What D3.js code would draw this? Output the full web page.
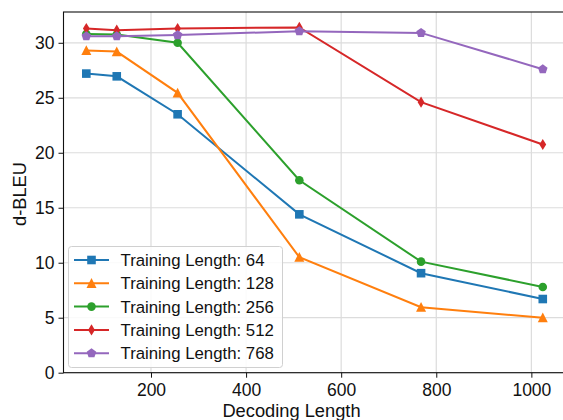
<!DOCTYPE html>
<html>
<head>
<meta charset="utf-8">
<script src="https://cdn.jsdelivr.net/npm/d3@7"></script>
<style>
html,body{margin:0;padding:0;background:#fff;}
svg{display:block;font-family:"Liberation Sans",Arial,Helvetica,sans-serif;}
</style>
</head>
<body>
<svg id="chart" width="563" height="420"></svg>
<script>
const decodingLengths = [64, 128, 256, 512, 768, 1024];
const seriesNames = ["Training Length: 64", "Training Length: 128", "Training Length: 256", "Training Length: 512", "Training Length: 768"];
const train64  = [27.2, 26.95, 23.5, 14.4, 9.05, 6.7];
const train128 = [29.3, 29.2, 25.45, 10.5, 5.95, 5.0];
const train256 = [30.8, 30.75, 30.0, 17.5, 10.1, 7.8];
const train512 = [31.3, 31.15, 31.3, 31.4, 24.6, 20.75];
const train768 = [30.6, 30.6, 30.7, 31.05, 30.9, 27.6];
const seriesValues = [train64, train128, train256, train512, train768];
const colors = ["#1f77b4", "#ff7f0e", "#2ca02c", "#d62728", "#9467bd"];
const markers = ["square", "triangle", "circle", "thindiamond", "pentagon"];
const xTicks = [200, 400, 600, 800, 1000];
const yTicks = [0, 5, 10, 15, 20, 25, 30];

(function () {
const svg = d3.select("#chart");
const pL = 63.5, pR = 565.6, pT = 12, pB = 372.7;
const x = d3.scaleLinear().domain([16, 1072]).range([pL, pR]);
const y = d3.scaleLinear().domain([0, 32.8]).range([pB, pT]);

// grid
const grid = svg.append("g");
grid.selectAll("line.vx").data(xTicks).join("line")
  .attr("x1", d => x(d)).attr("x2", d => x(d)).attr("y1", pT).attr("y2", pB)
  .attr("stroke", "#dcdcdc").attr("stroke-width", 1.2);
grid.selectAll("line.hy").data(yTicks).join("line")
  .attr("y1", d => y(d)).attr("y2", d => y(d)).attr("x1", pL).attr("x2", pR)
  .attr("stroke", "#dcdcdc").attr("stroke-width", 1.2);

// axes
const xAxis = svg.append("g").attr("transform", `translate(0,${pB})`)
  .call(d3.axisBottom(x).tickValues(xTicks).tickSize(5).tickPadding(5.5).tickFormat(d3.format("d")));
const yAxis = svg.append("g").attr("transform", `translate(${pL},0)`)
  .call(d3.axisLeft(y).tickValues(yTicks).tickSize(5).tickPadding(4).tickFormat(d3.format("d")));
[xAxis, yAxis].forEach(a => {
  a.select(".domain").remove();
  a.selectAll("text").attr("font-size", 17.5).attr("fill", "#111").attr("font-family", "Liberation Sans, Arial, sans-serif");
  a.selectAll("line").attr("stroke", "#111").attr("stroke-width", 1);
});
// frame
svg.append("rect").attr("x", pL).attr("y", pT).attr("width", pR - pL).attr("height", pB - pT)
  .attr("fill", "none").attr("stroke", "#111").attr("stroke-width", 1.1);

// axis labels
svg.append("text").attr("x", 291.5).attr("y", 416.5)
  .attr("text-anchor", "middle").attr("font-size", 18.3).attr("fill", "#111").text("Decoding Length");
svg.append("text").attr("transform", `translate(25.5,194) rotate(-90)`)
  .attr("text-anchor", "middle").attr("font-size", 18.3).attr("fill", "#111").text("d-BLEU");

// marker shapes
function markerPath(kind) {
  if (kind === "square") return "M-4.3,-4.3H4.3V4.3H-4.3Z";
  if (kind === "circle") return d3.symbol(d3.symbolCircle, 58)();
  if (kind === "triangle") return "M0,-5.2L5,4.6L-5,4.6Z";
  if (kind === "thindiamond") return "M0,-5.6L3.4,0L0,5.6L-3.4,0Z";
  if (kind === "pentagon") {
    const r = 5, pts = [];
    for (let i = 0; i < 5; i++) {
      const a = -Math.PI / 2 + i * 2 * Math.PI / 5;
      pts.push([r * Math.cos(a), r * Math.sin(a)]);
    }
    return "M" + pts.map(p => p.join(",")).join("L") + "Z";
  }
}

const line = d3.line().x(d => x(d[0])).y(d => y(d[1]));
seriesValues.forEach((vals, i) => {
  const pts = decodingLengths.map((d, j) => [d, vals[j]]);
  const g = svg.append("g");
  g.append("path").datum(pts).attr("d", line).attr("fill", "none")
    .attr("stroke", colors[i]).attr("stroke-width", 2);
  g.selectAll("path.m").data(pts).join("path").attr("class", "m")
    .attr("transform", d => `translate(${x(d[0])},${y(d[1])})`)
    .attr("d", markerPath(markers[i])).attr("fill", colors[i]);
});

// legend
const lg = svg.append("g");
lg.append("rect").attr("x", 68.5).attr("y", 246.5).attr("width", 214).attr("height", 121)
  .attr("rx", 3).attr("fill", "#fff").attr("fill-opacity", 0.85).attr("stroke", "#d0d0d0").attr("stroke-width", 1);
seriesNames.forEach((name, i) => {
  const cy = 260 + i * 23.3;
  lg.append("line").attr("x1", 74).attr("x2", 109).attr("y1", cy).attr("y2", cy)
    .attr("stroke", colors[i]).attr("stroke-width", 2);
  lg.append("path").attr("transform", `translate(91.5,${cy})`).attr("d", markerPath(markers[i])).attr("fill", colors[i]);
  lg.append("text").attr("x", 120.5).attr("y", cy + 6).attr("font-size", 16.8).attr("fill", "#111").text(name);
});
})();
</script>
</body>
</html>
